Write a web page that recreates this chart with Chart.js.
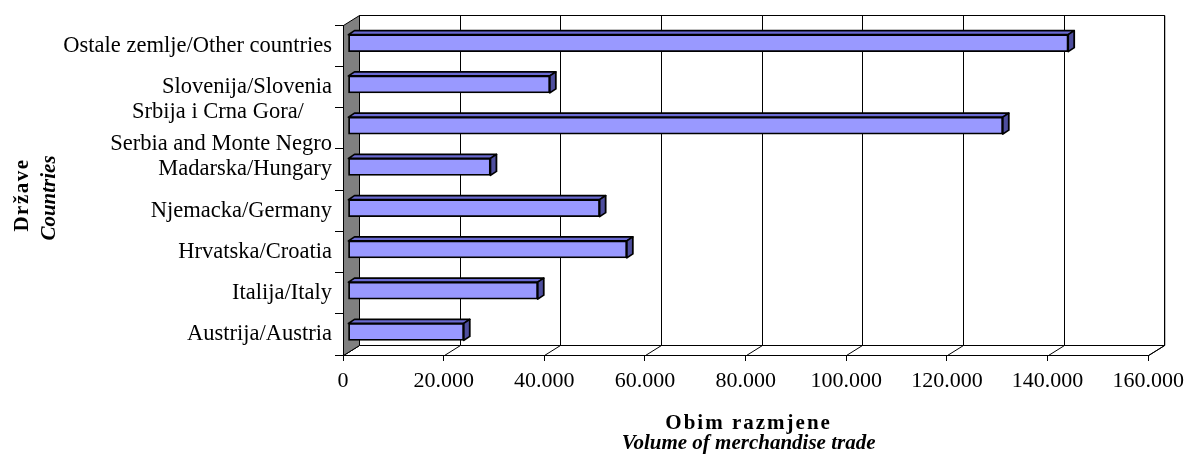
<!DOCTYPE html>
<html><head><meta charset="utf-8">
<script src="https://cdn.jsdelivr.net/npm/chart.js@4.4.0/dist/chart.umd.min.js"></script>
<style>html,body{margin:0;padding:0;background:#fff}#wrap{width:1191px;height:460px;position:relative}</style>
</head><body><div id="wrap"><canvas id="c"></canvas></div>
<script>
// ---- data ----
const categories = [
  'Ostale zemlje/Other countries',
  'Slovenija/Slovenia',
  ['Srbija i Crna Gora/     ', 'Serbia and Monte Negro'],
  'Madarska/Hungary',
  'Njemacka/Germany',
  'Hrvatska/Croatia',
  'Italija/Italy',
  'Austrija/Austria'
];
const tradeVolume = [143100, 40100, 130100, 28300, 50000, 55400, 37700, 23000];
const xTickLabels = ['0', '20.000', '40.000', '60.000', '80.000', '100.000', '120.000', '140.000', '160.000'];
const xTitleLines = ['Obim razmjene', 'Volume of merchandise trade'];
const yTitleLines = ['Države', 'Countries'];

// ---- styling constants ----
const FONT = '"Liberation Serif", "Times New Roman", serif';
const WALL = {dx: 16, dy: -10};
const BAR_SHIFT = {dx: 5, dy: -2.5};
const BAR_DEPTH = {dx: 6, dy: -4};

const threeD = {
  id: 'threeD',
  beforeDraw(chart) {
    const ctx = chart.ctx, a = chart.chartArea, xs = chart.scales.x;
    const L = a.left + 0.5, R = a.right + 0.5, T = a.top + 0.5, B = a.bottom + 0.5;
    ctx.save();
    ctx.fillStyle = '#fff';
    ctx.fillRect(0, 0, chart.width, chart.height);
    ctx.lineWidth = 1;
    ctx.strokeStyle = '#000';
    // back wall
    ctx.beginPath();
    ctx.rect(L + WALL.dx, T + WALL.dy, R - L, B - T);
    ctx.fillStyle = '#fff'; ctx.fill(); ctx.stroke();
    // floor
    ctx.beginPath();
    ctx.moveTo(L, B); ctx.lineTo(R, B); ctx.lineTo(R + WALL.dx, B + WALL.dy); ctx.lineTo(L + WALL.dx, B + WALL.dy); ctx.closePath();
    ctx.fill(); ctx.stroke();
    // gridlines on wall + floor
    xs.ticks.forEach(t => {
      const px = Math.round(xs.getPixelForValue(t.value)) + 0.5;
      ctx.beginPath();
      ctx.moveTo(px + WALL.dx, T + WALL.dy); ctx.lineTo(px + WALL.dx, B + WALL.dy);
      ctx.moveTo(px, B); ctx.lineTo(px + WALL.dx, B + WALL.dy);
      ctx.stroke();
    });
    // side wall
    ctx.beginPath();
    ctx.moveTo(L, T); ctx.lineTo(L + WALL.dx, T + WALL.dy); ctx.lineTo(L + WALL.dx, B + WALL.dy); ctx.lineTo(L, B); ctx.closePath();
    ctx.fillStyle = '#808080'; ctx.fill(); ctx.stroke();
    ctx.restore();
  },
  beforeDatasetsDraw(chart) {
    const ctx = chart.ctx;
    ctx.save();
    ctx.translate(BAR_SHIFT.dx, BAR_SHIFT.dy);
    const meta = chart.getDatasetMeta(0);
    ctx.lineWidth = 1.8;
    ctx.strokeStyle = '#000';
    ctx.lineJoin = 'round';
    meta.data.forEach(el => {
      const p = el.getProps(['x', 'y', 'base', 'height'], true);
      const left = Math.min(p.base, p.x), right = Math.max(p.base, p.x);
      const top = p.y - p.height / 2, bottom = p.y + p.height / 2;
      const dx = BAR_DEPTH.dx, dy = BAR_DEPTH.dy;
      ctx.beginPath();
      ctx.moveTo(left, top); ctx.lineTo(left + dx, top + dy); ctx.lineTo(right + dx, top + dy); ctx.lineTo(right, top); ctx.closePath();
      ctx.fillStyle = '#6A6AD2'; ctx.fill(); ctx.stroke();
      ctx.beginPath();
      ctx.moveTo(right, top); ctx.lineTo(right + dx, top + dy); ctx.lineTo(right + dx, bottom + dy); ctx.lineTo(right, bottom); ctx.closePath();
      ctx.fillStyle = '#4E4E9E'; ctx.fill(); ctx.stroke();
    });
  },
  afterDatasetsDraw(chart) {
    chart.ctx.restore();
  },
  afterDraw(chart) {
    const ctx = chart.ctx, a = chart.chartArea;
    const cx = (a.left + a.right) / 2 + 3;
    ctx.save();
    ctx.fillStyle = '#000';
    ctx.textAlign = 'center';
    ctx.textBaseline = 'alphabetic';
    ctx.font = 'bold 21px ' + FONT;
    try { ctx.letterSpacing = '2px'; } catch (e) {}
    ctx.fillText(xTitleLines[0], cx, 429);
    try { ctx.letterSpacing = '1.5px'; } catch (e) {}
    ctx.save();
    ctx.translate(28, 195);
    ctx.rotate(-Math.PI / 2);
    ctx.fillText(yTitleLines[0], 0, 0);
    ctx.restore();
    try { ctx.letterSpacing = '0px'; } catch (e) {}
    ctx.font = 'italic bold 21px ' + FONT;
    ctx.fillText(xTitleLines[1], cx, 449);
    ctx.save();
    ctx.translate(55, 198);
    ctx.rotate(-Math.PI / 2);
    ctx.fillText(yTitleLines[1], 0, 0);
    ctx.restore();
    ctx.restore();
  }
};

new Chart(document.getElementById('c'), {
  type: 'bar',
  data: {
    labels: categories,
    datasets: [{
      data: tradeVolume,
      backgroundColor: '#9999FF',
      borderColor: '#000',
      borderWidth: 1.8,
      borderSkipped: false,
      barThickness: 17
    }]
  },
  options: {
    indexAxis: 'y',
    responsive: true,
    maintainAspectRatio: false,
    animation: false,
    events: [],
    layout: {padding: {left: 0, right: 40, top: 25, bottom: 0}},
    plugins: {legend: {display: false}, tooltip: {enabled: false}},
    scales: {
      x: {
        min: 0, max: 160000,
        ticks: {
          stepSize: 20000,
          color: '#000',
          padding: 7,
          maxRotation: 0,
          autoSkip: false,
          font: {family: FONT, size: 22},
          callback: (v, i) => xTickLabels[i]
        },
        grid: {drawOnChartArea: false, drawTicks: true, tickLength: 6, color: '#000'},
        border: {display: true, color: '#000'},
        afterFit: s => { s.height = 105; }
      },
      y: {
        offset: true,
        ticks: {
          color: '#000',
          padding: 3,
          autoSkip: false,
          font: {family: FONT, size: 22.5, lineHeight: 1.43}
        },
        grid: {offset: true, drawOnChartArea: false, drawTicks: true, tickLength: 8, color: '#000'},
        border: {display: true, color: '#000'},
        afterFit: s => { s.width = 343; }
      }
    }
  },
  plugins: [threeD]
});
</script>
</body></html>
